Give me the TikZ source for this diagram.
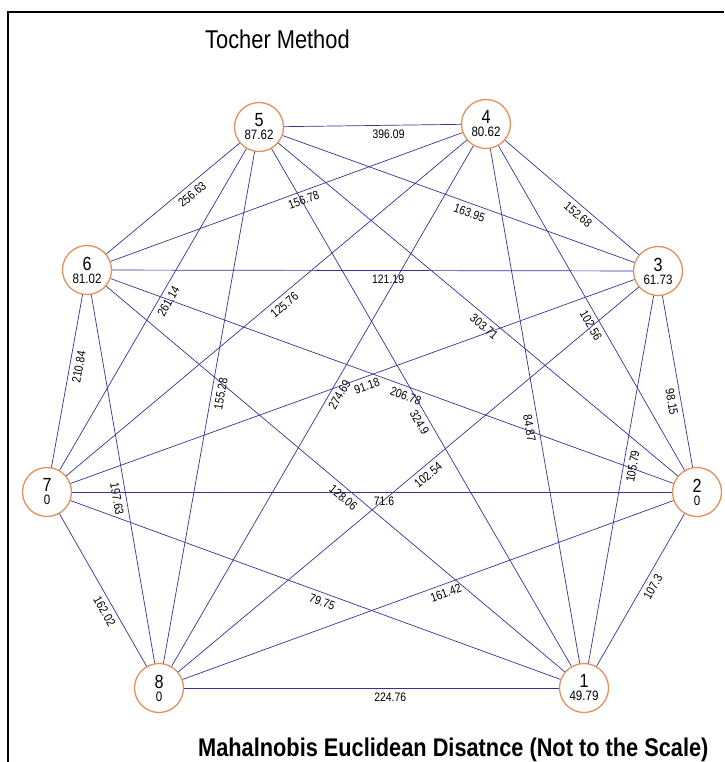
\documentclass[tikz,border=0pt]{standalone}
\usepackage{fontspec}
\setmainfont{Liberation Sans}[FakeStretch=0.85]
\definecolor{edgeblue}{RGB}{52,52,150}
\definecolor{ringorange}{RGB}{226,146,92}
\newcommand{\vlab}[2]{{\fontsize{19}{19}\selectfont #1}\\#2}
\begin{document}
\begin{tikzpicture}[x=1pt, y=-1pt,
  vert/.style={circle, draw=ringorange, line width=1.3pt, fill=white, minimum size=49pt, inner sep=0pt, align=center, font=\fontsize{13.6}{13}\selectfont},
  link/.style={draw=edgeblue, line width=0.7pt},
  dist/.style={sloped, below, inner sep=4.5pt, font=\fontsize{12.3}{12}\selectfont}]
\useasboundingbox (0,0) rectangle (724,762);
\draw[line width=1.5pt] (8,762) -- (8,12) -- (724,12);
\node[anchor=base west, inner sep=0pt, font=\fontsize{25.7}{26}\selectfont] (title) at (205,49) {Tocher Method};
\node[anchor=base west, inner sep=0pt, font=\bfseries\fontsize{25.6}{26}\selectfont] (note) at (198,756) {Mahalnobis Euclidean Disatnce (Not to the Scale)};
\node[vert] (g5) at (259,127) {\vlab{5}{87.62}};
\node[vert] (g4) at (486,124) {\vlab{4}{80.62}};
\node[vert] (g6) at (87,270) {\vlab{6}{81.02}};
\node[vert] (g3) at (658,271) {\vlab{3}{61.73}};
\node[vert] (g7) at (47,492) {\vlab{7}{0}};
\node[vert] (g2) at (697,492) {\vlab{2}{0}};
\node[vert] (g8) at (159,688) {\vlab{8}{0}};
\node[vert] (g1) at (584,688) {\vlab{1}{49.79}};
\draw[link] (g5) -- node[dist, pos=0.59] {396.09} (g4);
\draw[link] (g5) -- node[dist, pos=0.40] {256.63} (g6);
\draw[link] (g6) -- node[dist, pos=0.54] {156.78} (g4);
\draw[link] (g5) -- node[dist, pos=0.54] {163.95} (g3);
\draw[link] (g4) -- node[dist, pos=0.59] {152.68} (g3);
\draw[link] (g6) -- node[dist, pos=0.53] {121.19} (g3);
\draw[link] (g5) -- node[dist, pos=0.46] {261.14} (g7);
\draw[link] (g4) -- node[dist, pos=0.47] {125.76} (g7);
\draw[link] (g6) -- node[dist, pos=0.41] {210.84} (g7);
\draw[link] (g6) -- node[dist, pos=0.55] {197.63} (g8);
\draw[link] (g5) -- node[dist, pos=0.47] {155.28} (g8);
\draw[link] (g4) -- node[dist, pos=0.47] {274.69} (g8);
\draw[link] (g7) -- node[dist, pos=0.52] {91.18} (g3);
\draw[link] (g6) -- node[dist, pos=0.53] {206.78} (g2);
\draw[link] (g5) -- node[dist, pos=0.52] {324.9} (g1);
\draw[link] (g5) -- node[dist, pos=0.53] {303.71} (g2);
\draw[link] (g4) -- node[dist, pos=0.54] {102.56} (g2);
\draw[link] (g4) -- node[dist, pos=0.54] {84.87} (g1);
\draw[link] (g3) -- node[dist, pos=0.61] {98.15} (g2);
\draw[link] (g3) -- node[dist, pos=0.46] {105.79} (g1);
\draw[link] (g3) -- node[dist, pos=0.47] {102.54} (g8);
\draw[link] (g7) -- node[dist, pos=0.52] {71.6} (g2);
\draw[link] (g6) -- node[dist, pos=0.53] {128.06} (g1);
\draw[link] (g7) -- node[dist, pos=0.52] {79.75} (g1);
\draw[link] (g8) -- node[dist, pos=0.53] {161.42} (g2);
\draw[link] (g7) -- node[dist, pos=0.61] {162.02} (g8);
\draw[link] (g8) -- node[dist, pos=0.55] {224.76} (g1);
\draw[link] (g2) -- node[dist, pos=0.45] {107.3} (g1);
\end{tikzpicture}
\end{document}
